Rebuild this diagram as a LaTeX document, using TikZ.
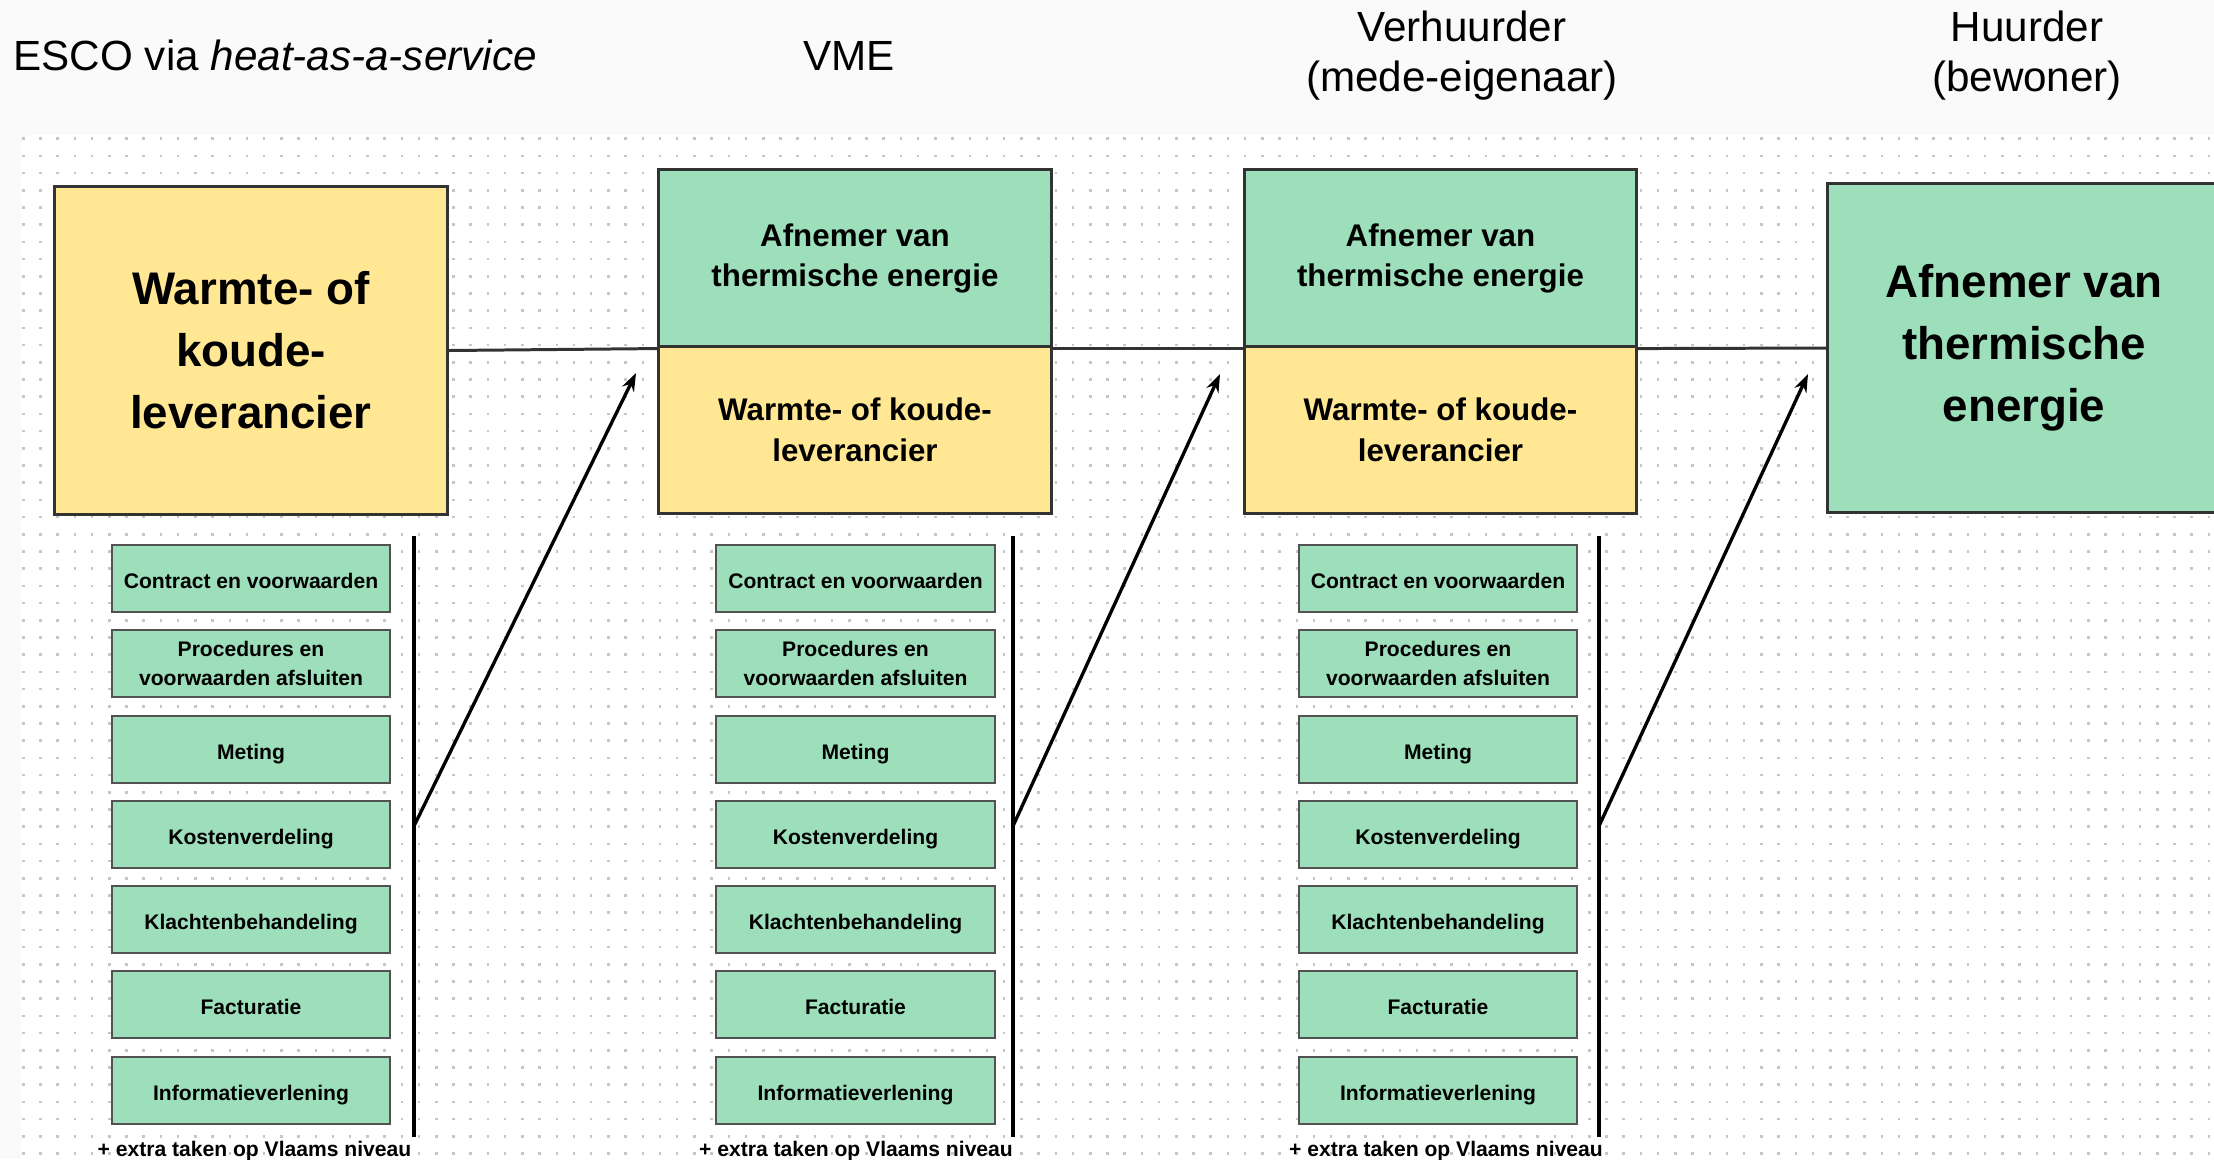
\documentclass[tikz,border=0pt]{standalone}
\usepackage{fontspec}
\setmainfont{Liberation Sans}
\usetikzlibrary{arrows.meta}

\definecolor{warm}{HTML}{FFE794}
\definecolor{afnemer}{HTML}{9DDFBA}
\definecolor{rand}{HTML}{333333}
\definecolor{band}{HTML}{FAFAFA}
\definecolor{stip}{HTML}{C6C6C6}

\tikzset{
  kop/.style={inner sep=0pt, align=center, font=\fontsize{12}{14}\selectfont},
  groot/.style={draw=rand, line width=0.85pt, inner sep=0pt, align=center,
    minimum width=3.92cm, font=\bfseries\fontsize{13}{17.6}\selectfont},
  midden/.style={draw=rand, line width=0.85pt, inner sep=0pt, align=center,
    minimum width=3.92cm, font=\bfseries\fontsize{8.9}{11.5}\selectfont},
  taak/.style={draw=rand!85, line width=0.55pt, fill=afnemer, inner sep=0pt, align=center,
    minimum width=2.78cm, minimum height=0.67cm, font=\bfseries\fontsize{6}{8.3}\selectfont},
  regel/.style={taak, text height=5.8pt, text depth=0.4pt},
  extra/.style={inner sep=0pt, font=\bfseries\fontsize{6}{8.3}\selectfont},
  lijn/.style={draw=rand, line width=0.85pt},
  balk/.style={draw=black, line width=1pt},
  pijl/.style={draw=black, line width=0.95pt, -{Stealth[length=0.18cm, width=0.13cm]}}
}

\begin{document}
\begin{tikzpicture}[x=0.01cm, y=-0.01cm]
  \useasboundingbox (0,0) rectangle (2214,1159);
  \clip (0,0) rectangle (2214,1159);

  % achtergrond met stippenraster
  \fill[band] (0,0) rectangle (2214,1159);
  \fill[white, rounded corners=0.1cm] (21,135) rectangle (2260,1200);
  \foreach \r in {0,...,59}
    \draw[stip, line width=0.025cm, dash pattern=on 0.025cm off 0.147cm]
      (22,{138.7+17.2*\r}) -- (2214,{138.7+17.2*\r});

  % kolomtitels
  \node[kop, anchor=base west] (esco) at (13,70) {ESCO via \textit{heat-as-a-service}};
  \node[kop, anchor=base] (vme) at (849,70) {VME};
  \node[kop] (verhuurder) at (1462,55.5) {Verhuurder\\(mede-eigenaar)};
  \node[kop] (huurder) at (2027,55.5) {Huurder\\(bewoner)};

  % rollen
  \node[groot, fill=warm, minimum height=3.27cm] (1) at (251,350.5) {Warmte- of\\koude-\\leverancier};
  \node[midden, fill=afnemer, minimum height=1.77cm] (2) at (855,258.5) {Afnemer van\\thermische energie};
  \node[midden, fill=warm, minimum height=1.66cm] (3) at (855,430) {Warmte- of koude-\\leverancier};
  \node[midden, fill=afnemer, minimum height=1.77cm] (4) at (1440.5,258.5) {Afnemer van\\thermische energie};
  \node[midden, fill=warm, minimum height=1.66cm] (5) at (1440.5,430) {Warmte- of koude-\\leverancier};
  \node[groot, fill=afnemer, minimum height=3.28cm] (6) at (2024,348) {Afnemer van\\thermische\\energie};

  \draw[lijn] (1.east) -- (2.south west);
  \draw[lijn] (2.south east) -- (4.south west);
  \draw[lijn] (4.south east) -- (6.west);

  % taken ESCO
  \node[regel] (11) at (251,578.5) {Contract en voorwaarden};
  \node[taak]  (12) at (251,663.5) {Procedures en\\voorwaarden afsluiten};
  \node[regel] (13) at (251,749.5) {Meting};
  \node[regel] (14) at (251,834.5) {Kostenverdeling};
  \node[regel] (15) at (251,919.5) {Klachtenbehandeling};
  \node[regel] (16) at (251,1004.5) {Facturatie};
  \node[regel] (17) at (251,1090.5) {Informatieverlening};
  \node[extra, anchor=base] (18) at (254.5,1156) {+ extra taken op Vlaams niveau};

  % taken VME
  \node[regel] (21) at (855.5,578.5) {Contract en voorwaarden};
  \node[taak]  (22) at (855.5,663.5) {Procedures en\\voorwaarden afsluiten};
  \node[regel] (23) at (855.5,749.5) {Meting};
  \node[regel] (24) at (855.5,834.5) {Kostenverdeling};
  \node[regel] (25) at (855.5,919.5) {Klachtenbehandeling};
  \node[regel] (26) at (855.5,1004.5) {Facturatie};
  \node[regel] (27) at (855.5,1090.5) {Informatieverlening};
  \node[extra, anchor=base] (28) at (856,1156) {+ extra taken op Vlaams niveau};

  % taken verhuurder
  \node[regel] (31) at (1438,578.5) {Contract en voorwaarden};
  \node[taak]  (32) at (1438,663.5) {Procedures en\\voorwaarden afsluiten};
  \node[regel] (33) at (1438,749.5) {Meting};
  \node[regel] (34) at (1438,834.5) {Kostenverdeling};
  \node[regel] (35) at (1438,919.5) {Klachtenbehandeling};
  \node[regel] (36) at (1438,1004.5) {Facturatie};
  \node[regel] (37) at (1438,1090.5) {Informatieverlening};
  \node[extra, anchor=base] (38) at (1446,1156) {+ extra taken op Vlaams niveau};

  % balken en pijlen
  \coordinate (b1) at (414,536);  \coordinate (e1) at (414,1137);
  \coordinate (s1) at (414,826);  \coordinate (p1) at (636,373);
  \coordinate (b2) at (1013,536); \coordinate (e2) at (1013,1137);
  \coordinate (s2) at (1013,826); \coordinate (p2) at (1220,374);
  \coordinate (b3) at (1599,536); \coordinate (e3) at (1599,1137);
  \coordinate (s3) at (1599,826); \coordinate (p3) at (1808,374);

  \draw[balk] (b1) -- (e1);
  \draw[balk] (b2) -- (e2);
  \draw[balk] (b3) -- (e3);
  \draw[pijl] (s1) -- (p1);
  \draw[pijl] (s2) -- (p2);
  \draw[pijl] (s3) -- (p3);

\end{tikzpicture}
\end{document}
